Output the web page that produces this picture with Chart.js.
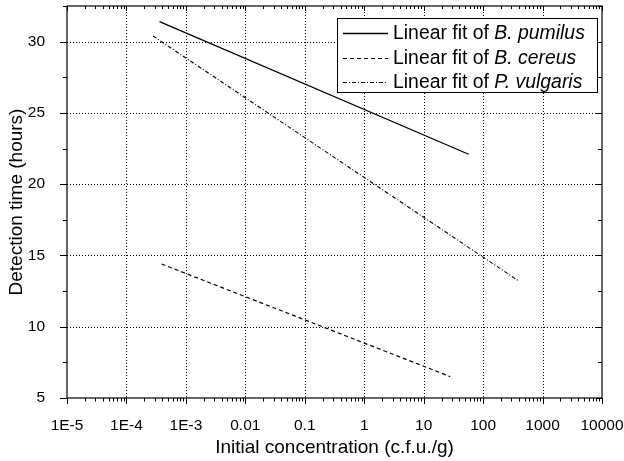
<!DOCTYPE html>
<html><head><meta charset="utf-8">
<script src="https://cdn.jsdelivr.net/npm/chart.js@4.4.0/dist/chart.umd.min.js"></script>
<style>html,body{margin:0;padding:0;background:#fff}#wrap{width:624px;height:461px}</style>
</head><body><div id="wrap"><canvas id="c" width="624" height="461"></canvas></div>
<script>
// ---- data ----
const xTickValues = [1e-5, 1e-4, 1e-3, 1e-2, 1e-1, 1, 10, 100, 1000, 10000];
const xTickLabels = ['1E-5', '1E-4', '1E-3', '0.01', '0.1', '1', '10', '100', '1000', '10000'];
const yTickValues = [5, 10, 15, 20, 25, 30];
const yTickLabels = ['5', '10', '15', '20', '25', '30'];
const seriesPrefix = 'Linear fit of ';
const seriesNames = ['B. pumilus', 'B. cereus', 'P. vulgaris'];
const pumilusX = [3.6e-4, 57];
const pumilusY = [31.4, 22.1];
const cereusX = [3.9e-4, 28];
const cereusY = [14.4, 6.5];
const vulgarisX = [2.8e-4, 400];
const vulgarisY = [30.4, 13.2];
const xTitle = 'Initial concentration (c.f.u./g)';
const yTitle = 'Detection time (hours)';

const F = "'Liberation Sans', Arial, Helvetica, sans-serif";
const pts = (xs, ys) => xs.map((x, i) => ({x: x, y: ys[i]}));

const gridPlugin = {
  id: 'gridPlugin',
  beforeDatasetsDraw(chart) {
    const {ctx, chartArea: a, scales: {x, y}} = chart;
    ctx.save();
    ctx.strokeStyle = '#000';
    ctx.lineWidth = 1;
    ctx.setLineDash([1, 2]);
    xTickValues.slice(1, -1).forEach(v => {
      const px = Math.round(x.getPixelForValue(v)) + 0.5;
      ctx.beginPath(); ctx.moveTo(px, a.top); ctx.lineTo(px, a.bottom); ctx.stroke();
    });
    yTickValues.slice(1).forEach(v => {
      const py = Math.round(y.getPixelForValue(v)) + 0.5;
      ctx.beginPath(); ctx.moveTo(a.left, py); ctx.lineTo(a.right, py); ctx.stroke();
    });
    ctx.restore();
  },
  afterDatasetsDraw(chart) {
    const {ctx, chartArea: a, scales: {x, y}} = chart;
    ctx.save();
    ctx.strokeStyle = '#000';
    ctx.lineWidth = 1.2;
    ctx.setLineDash([]);
    ctx.strokeRect(a.left, a.top, a.right - a.left, a.bottom - a.top);
    ctx.lineWidth = 1;
    const line = (x1, y1, x2, y2) => { ctx.beginPath(); ctx.moveTo(x1, y1); ctx.lineTo(x2, y2); ctx.stroke(); };
    for (let e = -5; e <= 4; e++) {
      const px = Math.round(x.getPixelForValue(Math.pow(10, e))) + 0.5;
      line(px, a.bottom, px, a.bottom + 6);
      line(px, a.top, px, a.top + 5);
      if (e < 4) {
        for (let k = 2; k <= 9; k++) {
          const mx = Math.round(x.getPixelForValue(k * Math.pow(10, e))) + 0.5;
          line(mx, a.bottom, mx, a.bottom + 3.5);
          line(mx, a.top, mx, a.top + 3);
        }
      }
    }
    for (let v = 5; v <= 32.5; v += 2.5) {
      const py = Math.round(y.getPixelForValue(v)) + 0.5;
      const major = (v % 5 === 0);
      line(a.left - (major ? 7 : 4), py, a.left, py);
      line(a.right - (major ? 6 : 4), py, a.right, py);
    }
    ctx.restore();
  },
  afterDraw(chart) {
    const {ctx} = chart;
    ctx.save();
    const bx = 337.5, by = 18.5, bw = 260, bh = 74;
    ctx.fillStyle = '#fff';
    ctx.fillRect(bx, by, bw, bh);
    ctx.strokeStyle = '#000';
    ctx.lineWidth = 1;
    ctx.strokeRect(bx, by, bw, bh);
    chart.data.datasets.forEach((ds, i) => {
      const cy = 33 + i * 24.5;
      ctx.strokeStyle = ds.borderColor;
      ctx.lineWidth = ds.borderWidth;
      ctx.setLineDash(ds.borderDash || []);
      ctx.beginPath(); ctx.moveTo(343, Math.round(cy) + 0.5); ctx.lineTo(388, Math.round(cy) + 0.5); ctx.stroke();
      ctx.setLineDash([]);
      ctx.fillStyle = '#000';
      ctx.textBaseline = 'middle';
      ctx.textAlign = 'left';
      ctx.font = '19.4px ' + F;
      ctx.fillText(seriesPrefix, 393, cy + 1);
      const w = ctx.measureText(seriesPrefix).width;
      ctx.font = 'italic 19.4px ' + F;
      ctx.fillText(seriesNames[i], 393 + w, cy + 1);
    });
    ctx.restore();
  }
};

new Chart(document.getElementById('c'), {
  type: 'line',
  data: {
    datasets: [
      {label: seriesPrefix + seriesNames[0], data: pts(pumilusX, pumilusY), borderColor: '#000', borderWidth: 1.3, borderDash: [], pointRadius: 0, fill: false, tension: 0},
      {label: seriesPrefix + seriesNames[1], data: pts(cereusX, cereusY), borderColor: '#000', borderWidth: 1.2, borderDash: [4, 3], pointRadius: 0, fill: false, tension: 0},
      {label: seriesPrefix + seriesNames[2], data: pts(vulgarisX, vulgarisY), borderColor: '#000', borderWidth: 1.1, borderDash: [4, 2, 1, 2], pointRadius: 0, fill: false, tension: 0}
    ]
  },
  options: {
    responsive: false,
    animation: false,
    devicePixelRatio: 1,
    layout: {padding: {top: 6, right: 22, left: 0, bottom: 0}},
    plugins: {legend: {display: false}, tooltip: {enabled: false}},
    scales: {
      x: {
        type: 'logarithmic', min: 1e-5, max: 1e4,
        afterBuildTicks: s => { s.ticks = xTickValues.map(v => ({value: v, major: true})); },
        afterFit: s => { s.height = 63; s.paddingLeft = 0; s.paddingRight = 0; s.paddingTop = 0; s.paddingBottom = 0; },
        grid: {display: false},
        border: {display: false},
        ticks: {
          autoSkip: false, maxRotation: 0, minRotation: 0, padding: 10, color: '#000',
          font: {family: F, size: 15.5},
          callback: v => { const i = xTickValues.indexOf(v); return i >= 0 ? xTickLabels[i] : ''; }
        },
        title: {display: true, text: xTitle, color: '#000', font: {family: F, size: 19}, padding: {top: 0, bottom: 2}}
      },
      y: {
        type: 'linear', min: 5, max: 32.5,
        afterBuildTicks: s => { s.ticks = yTickValues.map(v => ({value: v})); },
        afterFit: s => { s.width = 67; s.paddingLeft = 0; s.paddingRight = 0; s.paddingTop = 0; s.paddingBottom = 0; },
        grid: {display: false},
        border: {display: false},
        ticks: {
          padding: 14, color: '#000', font: {family: F, size: 15.5},
          callback: v => { const i = yTickValues.indexOf(v); return i >= 0 ? yTickLabels[i] : ''; }
        },
        title: {display: true, text: yTitle, color: '#000', font: {family: F, size: 19}, padding: {top: 5, bottom: 0}}
      }
    }
  },
  plugins: [gridPlugin]
});
</script>
</body></html>
